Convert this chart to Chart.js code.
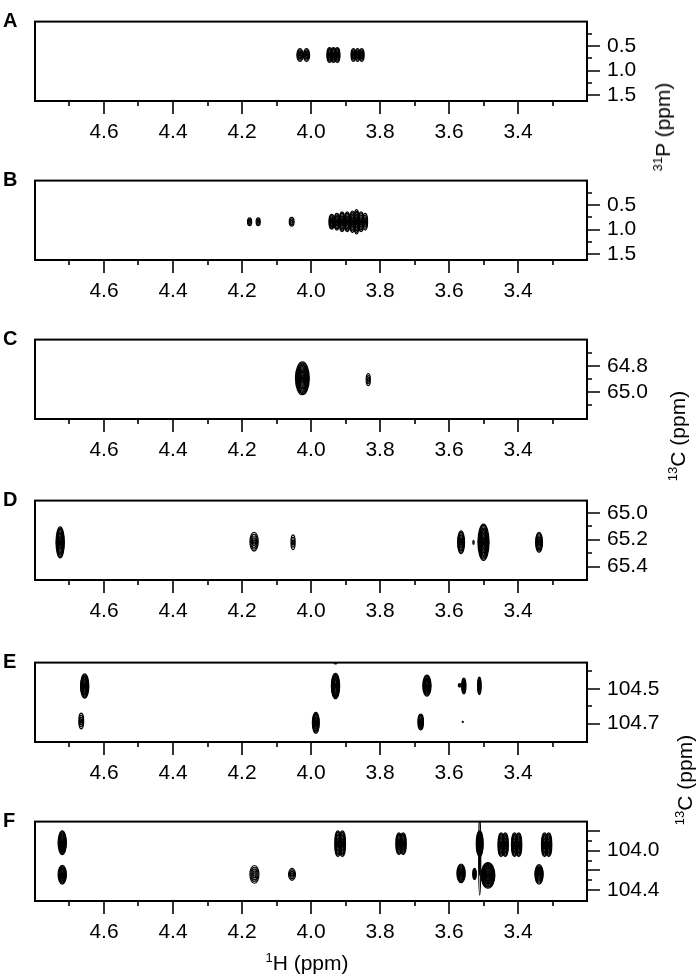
<!DOCTYPE html>
<html>
<head>
<meta charset="utf-8">
<script src="https://cdn.jsdelivr.net/npm/chart.js@4.4.0/dist/chart.umd.min.js"></script>
<style>
  body { margin: 0; background: #fff; width: 700px; height: 979px; position: relative; overflow: hidden;
         font-family: "Liberation Sans", Arial, sans-serif; color: #000; }
  canvas { position: absolute; left: 0; }
  .lt { position: absolute; left: 3px; font-weight: bold; font-size: 20px; transform: translateY(-50%); }
  .yt { position: absolute; font-size: 21px; white-space: nowrap; transform: translate(-50%, -50%) rotate(-90deg); }
  .xt { position: absolute; font-size: 21px; white-space: nowrap; transform: translate(-50%, -50%); }
  sup { font-size: 13px; vertical-align: 8px; line-height: 0; }
</style>
</head>
<body>

<script>
// 1H axis (shared by all panels)
const xTicks = [4.7, 4.6, 4.5, 4.4, 4.3, 4.2, 4.1, 4.0, 3.9, 3.8, 3.7, 3.6, 3.5, 3.4, 3.3];
const xLabels = ['', '4.6', '', '4.4', '', '4.2', '', '4.0', '', '3.8', '', '3.6', '', '3.4', ''];

// panel A : 1H-31P
const aH  = [4.032, 4.013, 3.946, 3.935, 3.924, 3.877, 3.865, 3.853];
const aP  = [0.68, 0.68, 0.68, 0.68, 0.68, 0.68, 0.68, 0.68];
const aRx = [0.009, 0.009, 0.008, 0.008, 0.008, 0.007, 0.007, 0.007];
const aRy = [0.13, 0.13, 0.15, 0.15, 0.15, 0.13, 0.13, 0.13];
const aN  = [5, 5, 7, 7, 7, 5, 5, 5];

// panel B : 1H-31P
const bH  = [4.178, 4.153, 4.056, 3.940, 3.925, 3.910, 3.895, 3.880, 3.868, 3.855, 3.843];
const bP  = [0.84, 0.84, 0.84, 0.84, 0.84, 0.84, 0.84, 0.84, 0.84, 0.84, 0.84];
const bRx = [0.006, 0.006, 0.007, 0.008, 0.008, 0.008, 0.008, 0.008, 0.008, 0.008, 0.007];
const bRy = [0.08, 0.08, 0.09, 0.15, 0.17, 0.2, 0.2, 0.22, 0.25, 0.2, 0.17];
const bN  = [3, 3, 3, 6, 6, 7, 7, 7, 8, 6, 5];

// panel C : 1H-13C
const cH  = [4.025, 3.834];
const cC  = [64.895, 64.905];
const cRx = [0.02, 0.006];
const cRy = [0.125, 0.045];
const cN  = [14, 3];

// panel D : 1H-13C
const dH  = [4.727, 4.165, 4.052, 3.565, 3.529, 3.500, 3.339];
const dC  = [65.22, 65.215, 65.22, 65.22, 65.22, 65.22, 65.22];
const dRx = [0.012, 0.012, 0.006, 0.01, 0.002, 0.016, 0.01];
const dRy = [0.115, 0.07, 0.055, 0.085, 0.015, 0.135, 0.075];
const dN  = [12, 5, 3, 8, 1, 14, 8];

// panel E : 1H-13C
const eH  = [4.656, 3.929, 3.929, 3.664, 3.569, 3.557, 3.512, 4.666, 3.986, 3.682, 3.56];
const eC  = [104.484, 104.484, 104.352, 104.482, 104.48, 104.484, 104.483, 104.685, 104.695, 104.69, 104.69];
const eRx = [0.012, 0.012, 0.004, 0.012, 0.004, 0.006, 0.005, 0.007, 0.01, 0.008, 0.001];
const eRy = [0.07, 0.073, 0.006, 0.06, 0.01, 0.045, 0.05, 0.045, 0.06, 0.045, 0.003];
const eN  = [12, 12, 2, 10, 2, 8, 8, 4, 10, 8, 1];

// panel F : 1H-13C
const fH  = [4.721, 4.721, 4.164, 4.055, 3.922, 3.909, 3.745, 3.733, 3.565, 3.526, 3.511, 3.511, 3.487, 3.449, 3.437, 3.410, 3.398, 3.323, 3.311, 3.339];
const fC  = [103.92, 104.243, 104.24, 104.24, 103.93, 103.93, 103.93, 103.93, 104.23, 104.235, 103.93, 104.05, 104.25, 103.94, 103.94, 103.94, 103.94, 103.94, 103.94, 104.24];
const fRx = [0.012, 0.012, 0.013, 0.01, 0.009, 0.009, 0.009, 0.009, 0.012, 0.005, 0.01, 0.003, 0.02, 0.009, 0.009, 0.009, 0.009, 0.009, 0.009, 0.012];
const fRy = [0.12, 0.095, 0.09, 0.06, 0.13, 0.13, 0.11, 0.11, 0.095, 0.055, 0.13, 0.4, 0.13, 0.12, 0.12, 0.12, 0.12, 0.12, 0.12, 0.1];
const fN  = [12, 10, 5, 4, 9, 9, 9, 9, 10, 6, 12, 2, 14, 9, 9, 9, 9, 9, 9, 10];

// right-hand axes
const yTicksP = [0.25, 0.5, 0.75, 1.0, 1.25, 1.5];
const yLabsP  = ['', '0.5', '', '1.0', '', '1.5'];
const yMajP   = [0, 1, 0, 1, 0, 1];
const yTicksC = [64.7, 64.8, 64.9, 65.0, 65.1];
const yLabsC  = ['', '64.8', '', '65.0', ''];
const yMajC   = [0, 1, 0, 1, 0];
const yTicksD = [65.0, 65.1, 65.2, 65.3, 65.4];
const yLabsD  = ['65.0', '', '65.2', '', '65.4'];
const yMajD   = [1, 0, 1, 0, 1];
const yTicksE = [104.4, 104.5, 104.6, 104.7];
const yLabsE  = ['', '104.5', '', '104.7'];
const yMajE   = [0, 1, 0, 1];
const yTicksF = [103.8, 103.9, 104.0, 104.1, 104.2, 104.3, 104.4];
const yLabsF  = ['', '', '104.0', '', '', '', '104.4'];
const yMajF   = [1, 0, 1, 0, 1, 0, 1];

const PAD_T = 14, FRAME_H = 98, XAX_H = 60;

// draws contours, frame and tick marks
const nmrPlugin = {
  id: 'nmr',
  afterDatasetsDraw(chart) {
    const { ctx, chartArea: a, scales: { x, y } } = chart;
    ctx.save();
    ctx.beginPath();
    ctx.rect(a.left, a.top, a.right - a.left, a.bottom - a.top);
    ctx.clip();
    ctx.strokeStyle = '#000';
    ctx.lineWidth = 1.2;
    chart.data.datasets[0].data.forEach(p => {
      const cx = x.getPixelForValue(p.x), cy = y.getPixelForValue(p.y);
      const rx = Math.abs(x.getPixelForValue(p.x + p.rx) - cx);
      const ry = Math.abs(y.getPixelForValue(p.y + p.ry) - cy);
      for (let k = 0; k < p.n; k++) {
        const f = 1 - k / p.n;
        ctx.beginPath();
        ctx.ellipse(cx, cy, Math.max(rx * f, 0.5), Math.max(ry * f, 0.5), 0, 0, Math.PI * 2);
        ctx.stroke();
      }
    });
    ctx.restore();
  },
  afterDraw(chart) {
    const { ctx, chartArea: a, scales: { x, y } } = chart;
    const o = chart.options.plugins.nmr;
    ctx.save();
    ctx.strokeStyle = '#000';
    ctx.lineWidth = 2;
    ctx.strokeRect(a.left, a.top, a.right - a.left, a.bottom - a.top);
    ctx.lineWidth = 1.6;
    ctx.beginPath();
    xTicks.forEach((v, i) => {
      const px = Math.round(x.getPixelForValue(v));
      ctx.moveTo(px, a.bottom);
      ctx.lineTo(px, a.bottom + (xLabels[i] ? 13 : 5));
    });
    o.ticks.forEach((v, i) => {
      const py = Math.round(y.getPixelForValue(v));
      ctx.moveTo(a.right, py);
      ctx.lineTo(a.right + (o.major[i] ? 13 : 5), py);
    });
    ctx.stroke();
    ctx.restore();
  }
};

function makePanel(letter, frameTop, hs, cs, rxs, rys, ns, yMin, yMax, yTicks, yLabs, yMaj) {
  const cv = document.createElement('canvas');
  cv.width = 700;
  cv.height = PAD_T + FRAME_H + XAX_H;
  cv.style.top = (frameTop - PAD_T) + 'px';
  document.body.appendChild(cv);

  const lt = document.createElement('div');
  lt.className = 'lt';
  lt.textContent = letter;
  lt.style.top = (frameTop + 17) + 'px';
  document.body.appendChild(lt);

  const pts = hs.map((h, i) => ({ x: h, y: cs[i], rx: rxs[i], ry: rys[i], n: ns[i] }));

  new Chart(cv.getContext('2d'), {
    type: 'scatter',
    data: { datasets: [{ data: pts, pointRadius: 0, pointHoverRadius: 0 }] },
    options: {
      responsive: false,
      animation: false,
      events: [],
      layout: { padding: { left: 35, top: PAD_T, right: 0, bottom: 0 } },
      plugins: {
        legend: { display: false },
        tooltip: { enabled: false },
        nmr: { ticks: yTicks, major: yMaj }
      },
      scales: {
        x: {
          type: 'linear', min: 3.2, max: 4.8, reverse: true,
          grid: { display: false, drawTicks: false },
          border: { display: false },
          afterBuildTicks: s => { s.ticks = xTicks.map(v => ({ value: v })); },
          afterFit: s => { s.height = XAX_H; },
          ticks: {
            padding: 19, color: '#000', autoSkip: false, maxRotation: 0,
            font: { family: '"Liberation Sans", Arial, sans-serif', size: 21 },
            callback: (v, i) => xLabels[i]
          }
        },
        y: {
          type: 'linear', position: 'right', min: yMin, max: yMax, reverse: true,
          grid: { display: false, drawTicks: false },
          border: { display: false },
          afterBuildTicks: s => { s.ticks = yTicks.map(v => ({ value: v })); },
          afterFit: s => { s.width = 113; },
          ticks: {
            padding: 20, color: '#000', autoSkip: false,
            font: { family: '"Liberation Sans", Arial, sans-serif', size: 21 },
            callback: (v, i) => yLabs[i]
          }
        }
      }
    },
    plugins: [nmrPlugin]
  });
}

makePanel('A', 3,   aH, aP, aRx, aRy, aN, 0, 1.62, yTicksP, yLabsP, yMajP);
makePanel('B', 162, bH, bP, bRx, bRy, bN, 0, 1.62, yTicksP, yLabsP, yMajP);
makePanel('C', 321, cH, cC, cRx, cRy, cN, 64.6, 65.205, yTicksC, yLabsC, yMajC);
makePanel('D', 482, dH, dC, dRx, dRy, dN, 64.91, 65.5, yTicksD, yLabsD, yMajD);
makePanel('E', 644, eH, eC, eRx, eRy, eN, 104.35, 104.805, yTicksE, yLabsE, yMajE);
makePanel('F', 803, fH, fC, fRx, fRy, fN, 103.705, 104.51, yTicksF, yLabsF, yMajF);

// axis titles
function addTitle(cls, html, left, top) {
  const d = document.createElement('div');
  d.className = cls;
  d.innerHTML = html;
  d.style.left = left + 'px';
  d.style.top = top + 'px';
  document.body.appendChild(d);
}
addTitle('yt', '<sup>31</sup>P (ppm)', 663, 127);
addTitle('yt', '<sup>13</sup>C (ppm)', 678, 436);
addTitle('yt', '<sup>13</sup>C (ppm)', 685, 780);
addTitle('xt', '<sup>1</sup>H (ppm)', 307, 963);
</script>
</body>
</html>
